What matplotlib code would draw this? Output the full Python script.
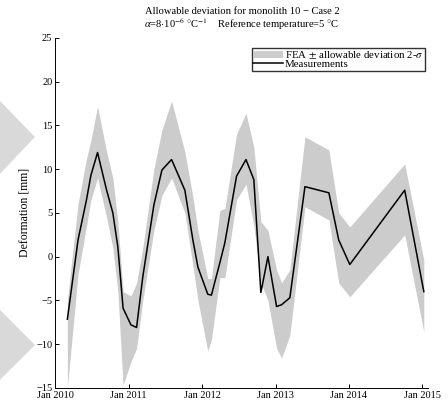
import pandas as pd
import matplotlib
matplotlib.use("Agg")
import matplotlib.pyplot as plt
import matplotlib.dates as mdates
from matplotlib.patches import Polygon

plt.rcParams['font.family'] = ['Liberation Serif', 'DejaVu Serif']
plt.rcParams['mathtext.fontset'] = 'stix'

dates = ["2010-03-03", "2010-04-25", "2010-06-06", "2010-06-28", "2010-07-31",
         "2010-09-14", "2010-10-15", "2010-11-09", "2010-12-05", "2011-01-13",
         "2011-02-10", "2011-03-13", "2011-05-07", "2011-06-16", "2011-08-03",
         "2011-10-08", "2011-11-17", "2011-12-12", "2012-01-30", "2012-02-17",
         "2012-03-30", "2012-04-24", "2012-06-21", "2012-08-07", "2012-09-15",
         "2012-10-20", "2012-11-24", "2013-01-06", "2013-01-31", "2013-03-13",
         "2013-05-27", "2013-09-23", "2013-11-11", "2014-01-05", "2014-10-05",
         "2015-01-08"]
measured = [-7.15, 1.9, 6.5, 9.3, 11.9,
            7.6, 5.0, 1.1, -5.9, -7.8,
            -8.1, -2.3, 5.9, 9.9, 11.1,
            7.6, 1.9, -1.2, -4.3, -4.4,
            -0.7, 1.6, 9.2, 11.1, 8.8,
            -4.1, 0.0, -5.7, -5.5, -4.7,
            8.0, 7.3, 1.9, -0.9, 7.6,
            -4.0]
# FEA +/- 2 sigma envelope at the same dates
fea_upper = [-5.0, 6.0, 11.2, 13.3, 17.2,
             12.0, 9.0, 4.0, -4.0, -4.5,
             -3.0, 1.0, 10.0, 14.5, 17.8,
             12.0, 6.8, 3.0, -2.5, -2.5,
             5.3, 5.5, 14.0, 16.4, 12.5,
             4.0, 3.0, -1.5, -3.0, -1.5,
             13.7, 12.2, 5.0, 3.4, 10.6,
             -0.4]
fea_lower = [-15.0, -2.0, 3.5, 6.5, 9.0,
             4.5, 1.0, -4.0, -14.7, -12.0,
             -10.5, -5.0, 3.0, 7.0, 9.0,
             5.0, -1.0, -5.0, -10.8, -9.5,
             -2.4, -2.4, 6.5, 8.3, 3.5,
             -3.0, -5.0, -10.5, -11.6, -9.0,
             5.7, 4.2, -3.0, -4.6, 2.5,
             -8.6]
years = [2010, 2011, 2012, 2013, 2014, 2015]
yticks = [-15, -10, -5, 0, 5, 10, 15, 20, 25]

t = pd.to_datetime(dates)

fig = plt.figure(figsize=(4.48, 4.04), dpi=100)

# grey watermark arrows at the left edge
for pts in ([(0, 0.75), (0.078, 0.661), (0, 0.570)],
            [(0, 0.233), (0.078, 0.146), (0, 0.060)]):
    fig.patches.append(Polygon(pts, closed=True, transform=fig.transFigure,
                               facecolor='#d9d9d9', edgecolor='none', zorder=0))

ax = fig.add_axes([0.123, 0.04, 0.832, 0.866])
ax.fill_between(t, fea_lower, fea_upper, color='#cccccc', linewidth=0,
                label=r'FEA $\pm$ allowable deviation 2-$\sigma$')
ax.plot(t, measured, color='black', linewidth=1.1, label='Measurements')

ax.set_xlim(pd.Timestamp("2010-01-01"), pd.Timestamp("2015-01-28"))
ax.set_ylim(-15, 25)
ax.set_yticks(yticks)
ax.set_yticklabels([str(v).replace('-', '\u2212') for v in yticks])
ax.set_xticks([pd.Timestamp(f"{y}-01-01") for y in years])
ax.xaxis.set_major_formatter(mdates.DateFormatter("Jan %Y"))
ax.tick_params(direction='in', length=3, width=0.7, labelsize=7.5, pad=2)
for s in ['top', 'right']:
    ax.spines[s].set_visible(False)
for s in ['left', 'bottom']:
    ax.spines[s].set_linewidth(0.7)

ax.set_ylabel('Deformation [mm]', fontsize=8.5, labelpad=4)

# two-line title above the axes
fig.text(0.54, 1 - 12 / 404, 'Allowable deviation for monolith 10 \u2212 Case 2',
         ha='center', va='center', fontsize=7.6)
fig.text(0.54, 1 - 24 / 404,
         r'$\alpha$=8$\cdot$10$^{-6}$ $\degree$C$^{-1}$    Reference temperature=5 $\degree$C',
         ha='center', va='center', fontsize=7.6)

leg = ax.legend(loc='upper right', bbox_to_anchor=(0.992, 0.971), fontsize=7.8,
                frameon=True, fancybox=False, borderpad=0.15, labelspacing=-0.15,
                handlelength=2.7, handleheight=0.6, handletextpad=0.2,
                borderaxespad=0.0)
leg.get_frame().set_edgecolor('black')
leg.get_frame().set_linewidth(1.0)

fig.savefig("out.png", dpi=100)
